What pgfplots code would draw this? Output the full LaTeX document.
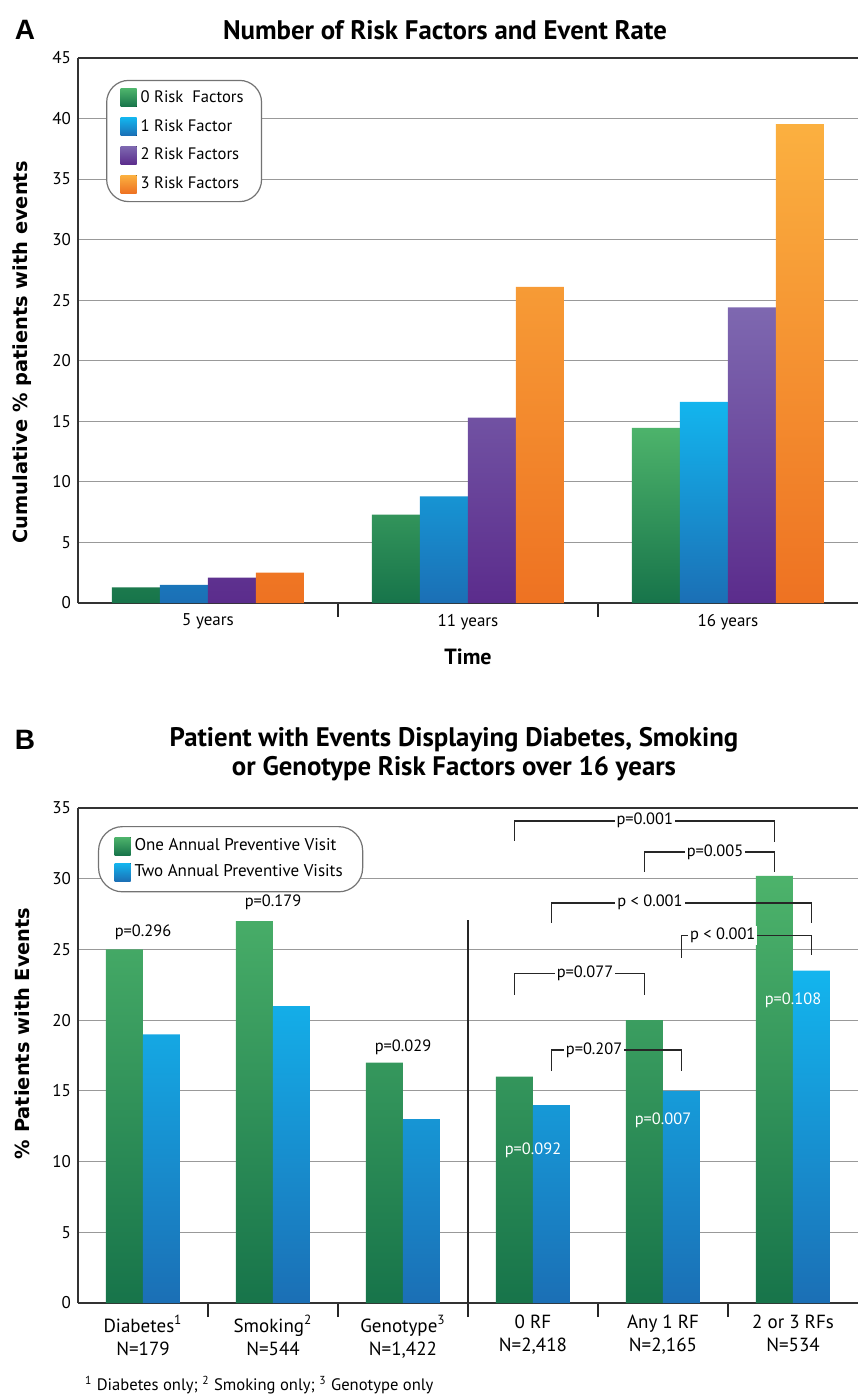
\documentclass[border=0pt]{standalone}
\usepackage{fontspec}
\setmainfont{PT Sans}
\newfontfamily\labfont{DejaVu Sans}
\newfontfamily\arialfont{Liberation Sans}
\usepackage{pgfplots}
\pgfplotsset{compat=1.18}

\definecolor{gTop}{HTML}{4DB36B}
\definecolor{gBot}{HTML}{17744A}
\definecolor{bTop}{HTML}{13B5EE}
\definecolor{bBot}{HTML}{1B6FB5}
\definecolor{pTop}{HTML}{7E68B0}
\definecolor{pBot}{HTML}{5B2C8C}
\definecolor{oTop}{HTML}{FBB040}
\definecolor{oBot}{HTML}{EE7222}

\pgfplotsset{
  riskax/.style={
    scale only axis, width=390pt,
    xmin=-0.5, ymin=0,
    axis x line*=box, axis y line*=left,
    axis line style={draw=black!80, line width=0.9pt, -},
    ymajorgrids, grid style={black!40, line width=0.5pt},
    xtick pos=left, ytick pos=left,
    major tick length=0pt, minor tick length=7pt,
    tick align=outside,
    minor x tick style={line width=1.1pt, black!85},
    tick label style={font=\fontsize{8.5}{11.5}\selectfont},
    xticklabel style={align=center, yshift=-2pt},
    /pgf/number format/assume math mode=true,
    ybar=0pt,
    ylabel style={font=\labfont\bfseries\fontsize{9.7}{10}\selectfont, anchor=center},
    legend cell align=left,
    legend image code/.code={\fill[#1,draw=none,sharp corners] (0pt,-4.5pt) rectangle (8pt,4.5pt);},
  }
}

\newcommand{\brk}[7]{%
  \draw[black!85, line width=0.8pt] (#1,#4) |- (#2,#3) -- (#2,#5);
  \node[fill=white, inner sep=1pt, font=\fontsize{8.2}{9}\selectfont] at (#7,#3) {#6};
}

\begin{document}
\begin{tikzpicture}
\useasboundingbox (0,0) rectangle (429pt,-697pt);

\node[font=\arialfont\bfseries\fontsize{14}{15}\selectfont] at (12.5pt,-15pt) {A};
\node[font=\bfseries\fontsize{13.4}{14.5}\selectfont] at (222.5pt,-15pt) {Number of Risk Factors and Event Rate};

\begin{axis}[riskax,
  at={(39pt,-29pt)}, anchor=north west,
  height=272.5pt, xmax=2.5, ymax=45,
  ytick={0,5,...,45},
  xtick={0,1,2}, xticklabels={5 years,11 years,16 years},
  minor xtick={0.5,1.5},
  bar width=24pt,
  xlabel={Time},
  xlabel style={font=\bfseries\fontsize{11}{12}\selectfont, at={(axis description cs:0.5,-0.099)}, anchor=center},
  ylabel={Cumulative \% patients with events},
  ylabel style={at={(axis description cs:-0.0718,0.46)}},
  legend style={at={(axis description cs:0.036,0.96)}, anchor=north west,
    draw=black!55, rounded corners=11pt, line width=0.6pt, fill=white,
    font=\fontsize{8.3}{9}\selectfont, row sep=3pt, inner xsep=7pt, inner ysep=3pt},
]
\addplot[draw=none, top color=gTop, bottom color=gBot] coordinates {(0,1.3) (1,7.3) (2,14.45)};
\addplot[draw=none, top color=bTop, bottom color=bBot] coordinates {(0,1.5) (1,8.8) (2,16.6)};
\addplot[draw=none, top color=pTop, bottom color=pBot] coordinates {(0,2.1) (1,15.3) (2,24.4)};
\addplot[draw=none, top color=oTop, bottom color=oBot] coordinates {(0,2.5) (1,26.1) (2,39.55)};
\legend{0 Risk\ \ Factors, 1 Risk Factor, 2 Risk Factors, 3 Risk Factors}
\end{axis}

\node[font=\arialfont\bfseries\fontsize{14}{15}\selectfont] at (12.5pt,-370pt) {B};
\node[font=\bfseries\fontsize{13.4}{14.5}\selectfont, align=center] at (227pt,-377pt)
  {Patient with Events Displaying Diabetes, Smoking\\or Genotype Risk Factors over 16 years};

\begin{axis}[riskax,
  at={(39pt,-404pt)}, anchor=north west,
  height=247.5pt, xmax=5.5, ymax=35,
  ytick={0,5,...,35},
  xtick={0,...,5},
  xticklabels={{Diabetes\textsuperscript{1}\\N=179}, {Smoking\textsuperscript{2}\\N=544}, {Genotype\textsuperscript{3}\\N=1,422},
    {0 RF\\N=2,418}, {Any 1 RF\\N=2,165}, {2 or 3 RFs\\N=534}},
  xticklabel style={yshift=-0.5pt, font=\fontsize{9.5}{11.5}\selectfont},
  minor xtick={0.5,1.5,...,4.5},
  bar width=18.5pt,
  ylabel={\% Patients with Events},
  ylabel style={at={(axis description cs:-0.0718,0.545)}},
  legend style={at={(axis description cs:0.0256,0.9636)}, anchor=north west,
    draw=black!55, rounded corners=12pt, line width=0.6pt, fill=white,
    font=\fontsize{8.5}{9}\selectfont, row sep=1.5pt, inner xsep=8pt, inner ysep=4pt},
]
\addplot[draw=none, top color=gTop, bottom color=gBot] coordinates {(0,25) (1,27) (2,17) (3,16) (4,20) (5,30.2)};
\addplot[draw=none, top color=bTop, bottom color=bBot] coordinates {(0,19) (1,21) (2,13) (3,14) (4,15) (5,23.5)};
\legend{One Annual Preventive Visit, Two Annual Preventive Visits}

\draw[black!85, line width=0.8pt] (2.5,0) -- (2.5,27.1);

\node[font=\fontsize{8.2}{9}\selectfont] at (0,26.2) {p=0.296};
\node[font=\fontsize{8.2}{9}\selectfont] at (1,28.3) {p=0.179};
\node[font=\fontsize{8.2}{9}\selectfont] at (2,18.1) {p=0.029};
\node[font=\fontsize{8.2}{9}\selectfont, text=white] at (3,10.8) {p=0.092};
\node[font=\fontsize{8.2}{9}\selectfont, text=white] at (4,12.9) {p=0.007};
\node[font=\fontsize{8.2}{9}\selectfont, text=white] at (5,21.4) {p=0.108};

\brk{2.858}{4.858}{34.1}{32.7}{32.6}{p=0.001}{3.86}
\brk{3.858}{4.858}{31.9}{30.5}{30.5}{p=0.005}{4.4}
\brk{3.142}{5.142}{28.3}{26.9}{26.9}{p < 0.001}{3.9}
\brk{4.142}{5.142}{26.0}{24.4}{24.6}{p < 0.001}{4.46}
\brk{2.858}{3.858}{23.3}{21.8}{21.8}{p=0.077}{3.4}
\brk{3.142}{4.142}{17.9}{16.4}{16.4}{p=0.207}{3.47}
\end{axis}

\node[anchor=west, font=\fontsize{8.3}{9}\selectfont] at (39pt,-692.5pt)
  {\textsuperscript{1} Diabetes only; \textsuperscript{2} Smoking only; \textsuperscript{3} Genotype only};
\end{tikzpicture}
\end{document}
